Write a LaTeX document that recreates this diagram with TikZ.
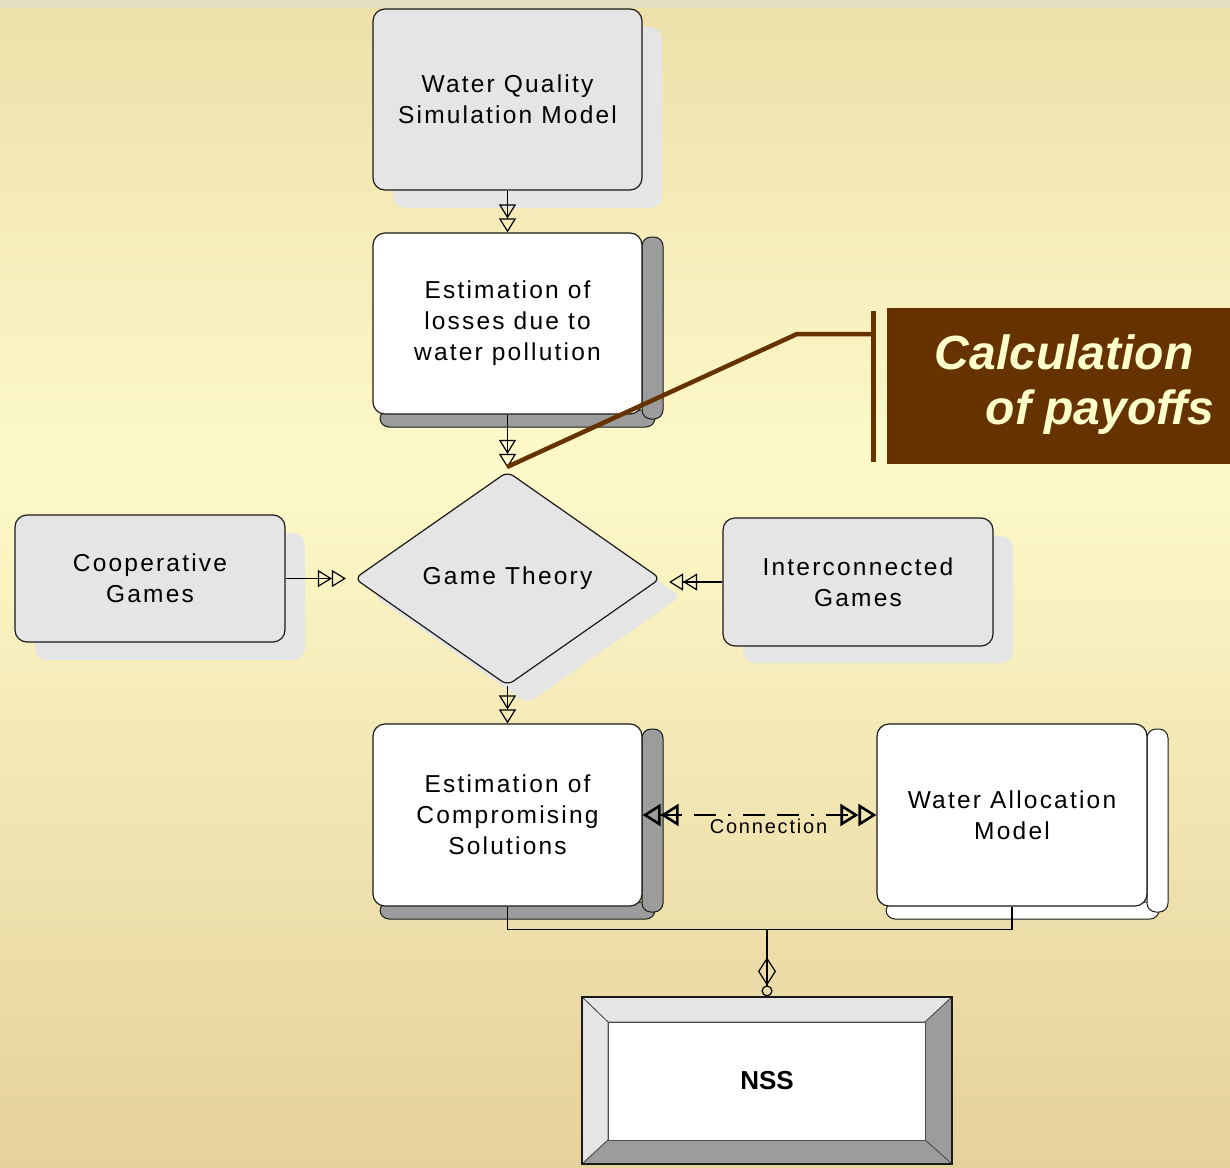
\documentclass[tikz,border=0pt]{standalone}
\usepackage{fontspec}
\setmainfont{Liberation Sans}
\newfontfamily\spacedfont[LetterSpace=9]{Liberation Sans}
\usetikzlibrary{arrows.meta,shapes.geometric}

\definecolor{paleface}{HTML}{E5E5E5}
\definecolor{bardark}{HTML}{9C9C9C}
\definecolor{calloutbrown}{HTML}{663300}
\definecolor{callouttext}{HTML}{FFFFCC}
\definecolor{bgtop}{HTML}{EDE0AA}
\definecolor{bgmid}{HTML}{FDF9C9}
\definecolor{bgbot}{HTML}{E5D19B}
\definecolor{topstrip}{HTML}{E2DEC3}
\definecolor{outline}{HTML}{1A1A1A}

\pgfdeclareverticalshading{backdrop}{100bp}{color(0bp)=(bgbot); color(25bp)=(bgbot); color(55bp)=(bgmid); color(75bp)=(bgtop); color(100bp)=(bgtop)}

\newcommand\boxfont{\spacedfont\fontsize{24.5}{31}\selectfont}
\newcommand\labelfont{\spacedfont\fontsize{20}{24}\selectfont}
\newcommand\nssfont{\fontsize{26}{30}\selectfont\bfseries}
\newcommand\calloutfont{\fontsize{48}{56}\selectfont\bfseries\itshape}

\tikzset{
  basebox/.style={draw=outline, line width=1.2pt, rounded corners=12pt, inner sep=0pt, align=center, font=\boxfont},
  greybox/.style={basebox, fill=paleface},
  whitebox/.style={basebox, fill=white},
  ghost/.style={fill=paleface, rounded corners=12pt},
  sidebar/.style={draw=outline, line width=1pt, rounded corners=9pt},
  gamediamond/.style={diamond, rounded corners=7pt, minimum width=306pt, minimum height=214pt, inner sep=0pt},
  dtri/.tip={Triangle[open,length=14pt,width=17pt]},
  wtri/.tip={Triangle[open,length=18pt,width=22pt]},
  flow/.style={draw=black, line width=1.2pt, -{dtri[]dtri[]}},
  conn/.style={draw=black, line width=2.6pt, dash pattern=on 22pt off 12pt on 22pt off 12pt on 3pt off 12pt,
    {wtri[]wtri[]}-{wtri[]wtri[]}},
  leader/.style={draw=calloutbrown, line width=4.5pt}
}

\begin{document}
\begin{tikzpicture}[x=1pt,y=-1pt]
\useasboundingbox (0,0) rectangle (1230,1167);
% backdrop
\shade[shading=backdrop] (0,0) rectangle (1230,1167);
\fill[topstrip] (0,0) rectangle (1230,8);

% soft drop shadows of the grey boxes
\path[ghost] (393,27) rectangle (662,208);
\path[ghost] (35,533) rectangle (305,660);
\path[ghost] (743,536) rectangle (1013,663);
\node[gamediamond, fill=paleface] at (527.5,596.5) {};

% raised edges of the white boxes
\path[sidebar, fill=bardark] (380,410) rectangle (655,427);
\path[sidebar, fill=bardark] (642,237) rectangle (663,419);
\path[sidebar, fill=bardark] (380,902) rectangle (655,919);
\path[sidebar, fill=bardark] (642,729) rectangle (663,912);
\path[sidebar, fill=white] (886,902) rectangle (1159,919);
\path[sidebar, fill=white] (1147,729) rectangle (1168,912);

% main boxes
\node[greybox, minimum width=269pt, minimum height=181pt] (wq) at (507.5,99.5) {Water Quality\\Simulation Model};
\node[whitebox, minimum width=269pt, minimum height=181pt] (loss) at (507.5,323.5) {Estimation of\\losses due to\\water pollution};
\node[gamediamond, draw=outline, line width=1.2pt, fill=paleface, font=\boxfont] (gt) at (507.5,578.5) {Game Theory};
\node[greybox, minimum width=270pt, minimum height=127pt] (coop) at (150,578.5) {Cooperative\\Games};
\node[greybox, minimum width=270pt, minimum height=128pt] (inter) at (858,582) {Interconnected\\Games};
\node[whitebox, minimum width=269pt, minimum height=182pt] (comp) at (507.5,815) {Estimation of\\Compromising\\Solutions};
\node[whitebox, minimum width=270pt, minimum height=182pt] (wam) at (1012,815) {Water Allocation\\Model};

% NSS bevelled frame
\filldraw[fill=paleface, draw=black!70, line width=0.8pt] (582,997) -- (952,997) -- (925,1022) -- (608,1022) -- cycle;
\filldraw[fill=paleface, draw=black!70, line width=0.8pt] (582,997) -- (608,1022) -- (608,1140) -- (582,1164) -- cycle;
\filldraw[fill=bardark, draw=black!70, line width=0.8pt] (952,997) -- (952,1164) -- (925,1140) -- (925,1022) -- cycle;
\filldraw[fill=bardark, draw=black!70, line width=0.8pt] (582,1164) -- (952,1164) -- (925,1140) -- (608,1140) -- cycle;
\filldraw[fill=white, draw=black!70, line width=0.8pt] (608,1022) rectangle (925,1140);
\node[draw=outline, line width=1.2pt, minimum width=370pt, minimum height=167pt, inner sep=0pt, font=\nssfont] (nss) at (767,1080.5) {NSS};

% flow connectors
\draw[flow] (wq.south) -- (loss.north);
\draw[flow, shorten >=3pt] (loss.south) -- (gt.north);
\draw[flow] (gt.south) -- (comp.north);
\draw[flow, shorten >=8pt] (coop.east) -- (gt.west |- coop.east);
\draw[flow, shorten >=8pt] (inter.west) -- (gt.east |- inter.west);
\draw[conn] (comp.east) -- (wam.west) node[midway, xshift=9pt, yshift=-11pt, font=\labelfont, inner sep=0pt] {Connection};

% merge into NSS
\draw[line width=1.2pt] (comp.south) -- ++(0,23) -| (wam.south);
\coordinate (merge) at (767,929);
\draw[line width=1.2pt, -{Diamond[open,length=28pt,width=18pt]Circle[open,length=11pt]}] (merge) -- (nss.north);

% callout
\node[fill=calloutbrown, minimum width=343pt, minimum height=156pt, inner sep=0pt, anchor=north west] (callout) at (887,308) {};
\node[text=callouttext, font=\calloutfont, inner sep=0pt] at (1064,352) {Calculation};
\node[text=callouttext, font=\calloutfont, inner sep=0pt] at (1100,412) {of payoffs};
\draw[draw=calloutbrown, line width=5pt] (873.5,311) -- (873.5,462);
\coordinate (barjoint) at (873.5,334);
\coordinate (gtpoint) at (507,467);
\draw[leader] (barjoint) -- (797,334) -- (gtpoint);
\end{tikzpicture}
\end{document}
